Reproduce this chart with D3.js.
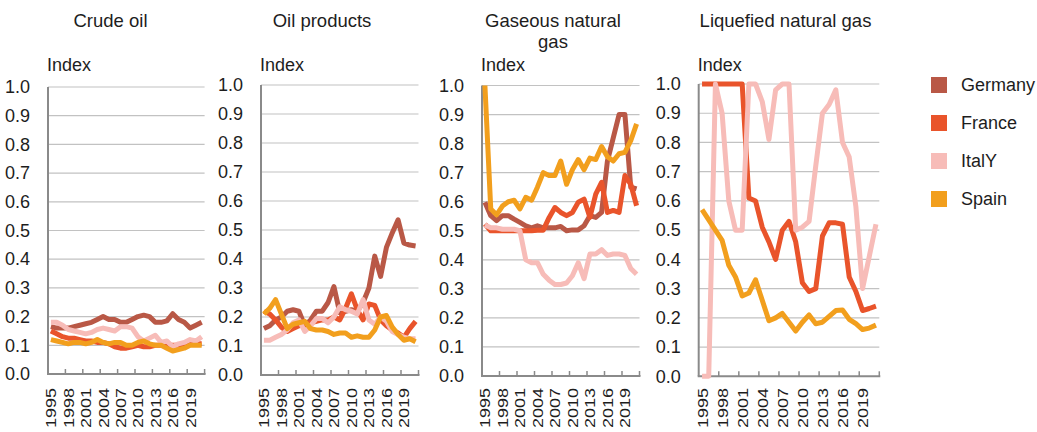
<!DOCTYPE html>
<html>
<head>
<meta charset="utf-8">
<script src="https://cdn.jsdelivr.net/npm/d3@7"></script>
<style>
  html, body { margin: 0; padding: 0; background: #fff; }
  svg { display: block; }
  text { font-family: "Liberation Sans", Arial, Helvetica, sans-serif; fill: #1d1d1d; }
</style>
</head>
<body>
<svg id="chart" width="1037" height="432"></svg>
<script>
// ---------- DATA ----------
const years = ["1995","1996","1997","1998","1999","2000","2001","2002","2003","2004","2005","2006","2007","2008","2009","2010","2011","2012","2013","2014","2015","2016","2017","2018","2019","2020","2021"];
const yearTickLabels = ["1995","1998","2001","2004","2007","2010","2013","2016","2019"];
const yTicks = [0.0,0.1,0.2,0.3,0.4,0.5,0.6,0.7,0.8,0.9,1.0];
const countries = ["Germany","France","ItalY","Spain"];
const panelTitles = [["Crude oil"],["Oil products"],["Gaseous natural","gas"],["Liquefied natural gas"]];

// Crude oil
const crudeGermany = [0.165,0.16,0.16,0.16,0.165,0.17,0.175,0.18,0.19,0.2,0.19,0.19,0.18,0.18,0.19,0.2,0.205,0.2,0.18,0.18,0.185,0.21,0.19,0.18,0.16,0.17,0.18];
const crudeFrance  = [0.15,0.14,0.13,0.125,0.125,0.12,0.115,0.115,0.11,0.11,0.105,0.095,0.09,0.09,0.095,0.1,0.095,0.095,0.1,0.1,0.1,0.1,0.1,0.1,0.105,0.105,0.105];
const crudeItaly   = [0.18,0.18,0.17,0.155,0.15,0.145,0.14,0.145,0.155,0.16,0.155,0.15,0.165,0.165,0.16,0.13,0.115,0.125,0.135,0.11,0.115,0.095,0.105,0.11,0.12,0.115,0.13];
const crudeSpain   = [0.12,0.115,0.11,0.105,0.11,0.11,0.105,0.11,0.12,0.11,0.105,0.11,0.11,0.1,0.1,0.11,0.115,0.105,0.1,0.1,0.09,0.08,0.085,0.09,0.1,0.1,0.1];

// Oil products
const oilGermany = [0.16,0.17,0.19,0.2,0.22,0.225,0.22,0.17,0.19,0.22,0.22,0.25,0.305,0.215,0.22,0.225,0.22,0.25,0.3,0.41,0.34,0.44,0.49,0.535,0.455,0.448,0.445];
const oilFrance  = [0.22,0.21,0.19,0.165,0.15,0.16,0.17,0.175,0.18,0.185,0.19,0.19,0.2,0.19,0.23,0.28,0.225,0.19,0.245,0.24,0.19,0.17,0.155,0.145,0.13,0.16,0.185];
const oilItaly   = [0.12,0.12,0.13,0.14,0.155,0.18,0.19,0.15,0.17,0.195,0.195,0.18,0.2,0.235,0.225,0.22,0.21,0.26,0.19,0.175,0.2,0.185,0.15,0.14,0.13,0.125,0.125];
const oilSpain   = [0.21,0.23,0.26,0.21,0.16,0.175,0.18,0.185,0.16,0.155,0.155,0.15,0.14,0.145,0.145,0.13,0.135,0.13,0.13,0.155,0.2,0.205,0.165,0.14,0.12,0.125,0.115];

// Gaseous natural gas
const gasGermany = [0.598,0.552,0.535,0.552,0.552,0.54,0.529,0.517,0.51,0.517,0.51,0.51,0.51,0.515,0.5,0.503,0.503,0.517,0.552,0.546,0.563,0.74,0.82,0.9,0.9,0.65,0.644];
const gasFrance  = [0.523,0.5,0.5,0.5,0.5,0.5,0.5,0.5,0.5,0.502,0.502,0.545,0.58,0.563,0.552,0.563,0.598,0.609,0.546,0.626,0.667,0.563,0.57,0.563,0.69,0.66,0.586];
const gasItaly   = [0.52,0.51,0.51,0.505,0.505,0.505,0.5,0.4,0.39,0.39,0.35,0.33,0.315,0.315,0.32,0.345,0.39,0.335,0.42,0.42,0.435,0.415,0.42,0.42,0.415,0.37,0.35];
const gasSpain   = [1.0,0.575,0.555,0.585,0.6,0.605,0.575,0.615,0.605,0.65,0.7,0.69,0.69,0.74,0.66,0.71,0.745,0.71,0.75,0.745,0.79,0.755,0.74,0.765,0.77,0.81,0.868];

// Liquefied natural gas (no German series)
const lngGermany = [];
const lngFrance  = [1,1,1,1,1,1,1,0.61,0.6,0.51,0.46,0.4,0.5,0.53,0.46,0.32,0.29,0.3,0.48,0.525,0.525,0.52,0.34,0.29,0.225,0.232,0.24];
const lngItaly   = [0,0,1,0.9,0.6,0.5,0.5,1,1,0.94,0.81,0.98,1,1,0.5,0.51,0.53,0.72,0.9,0.93,0.98,0.8,0.75,0.58,0.3,0.41,0.52];
const lngSpain   = [0.57,0.535,0.5,0.465,0.38,0.34,0.275,0.285,0.33,0.26,0.19,0.2,0.215,0.185,0.155,0.185,0.21,0.18,0.185,0.205,0.225,0.227,0.195,0.18,0.16,0.165,0.175];

const panelSeries = [
  [crudeGermany, crudeFrance, crudeItaly, crudeSpain],
  [oilGermany, oilFrance, oilItaly, oilSpain],
  [gasGermany, gasFrance, gasItaly, gasSpain],
  [lngGermany, lngFrance, lngItaly, lngSpain]
];

// ---------- STYLE / LAYOUT ----------
const colors = ["#b95846","#e9542b","#f7bcb8","#f29f1d"];
const layout = [
  {tx:110.5, x0:48,    x1:204.6, yTop:87,   yBot:374},
  {tx:322,   x0:261,   x1:418.5, yTop:85,   yBot:375},
  {tx:553,   x0:482,   x1:639.5, yTop:85.5, yBot:376},
  {tx:785.5, x0:698.7, x1:879.3, yTop:84,   yBot:376.3}
];

const svg = d3.select("#chart");

layout.forEach((L, p) => {
  const g = svg.append("g");
  const x = d3.scaleBand().domain(years).range([L.x0, L.x1]).paddingInner(0).paddingOuter(0);
  const y = d3.scaleLinear().domain([0, 1]).range([L.yBot, L.yTop]);
  const bw = x.bandwidth();

  // title
  const t = g.append("text").attr("x", L.tx).attr("y", 27)
    .attr("text-anchor", "middle").style("font-size", "18.5px");
  panelTitles[p].forEach((line, i) => {
    t.append("tspan").attr("x", L.tx).attr("dy", i === 0 ? 0 : 20.5).text(line);
  });

  // "Index" label
  g.append("text").attr("x", L.x0 - 1).attr("y", 71).style("font-size", "18px").text("Index");

  // gridlines
  g.selectAll("line.grid").data(yTicks.filter(d => d > 0)).join("line")
    .attr("x1", L.x0).attr("x2", L.x1)
    .attr("y1", d => y(d)).attr("y2", d => y(d))
    .attr("stroke", "#c2c2c2").attr("stroke-width", 1.2);

  // y axis labels via d3 axis
  const yAxis = d3.axisLeft(y).tickValues(yTicks).tickFormat(d3.format(".1f")).tickSize(0).tickPadding(18);
  const ya = g.append("g").attr("transform", `translate(${L.x0},0)`).call(yAxis);
  ya.select(".domain").remove();
  ya.selectAll("text").style("font-size", "18px").style("font-family", '"Liberation Sans", Arial, sans-serif').attr("fill", "#1d1d1d");

  // axis lines
  g.append("line").attr("x1", L.x0).attr("x2", L.x0).attr("y1", y(1)).attr("y2", y(0))
    .attr("stroke", "#8a8a8a").attr("stroke-width", 2);
  g.append("line").attr("x1", L.x0 - 1).attr("x2", L.x1 + 1).attr("y1", y(0)).attr("y2", y(0))
    .attr("stroke", "#8a8a8a").attr("stroke-width", 2);

  // x ticks at band boundaries every 3 years (pointing up)
  const tickPos = years.filter((d, i) => i % 3 === 0 && i > 0).map(d => x(d)).concat([x.range()[1]]);
  g.selectAll("line.xt").data(tickPos).join("line")
    .attr("x1", d => d).attr("x2", d => d)
    .attr("y1", y(0)).attr("y2", y(0) - 5)
    .attr("stroke", "#8a8a8a").attr("stroke-width", 1.5);

  // x labels
  g.selectAll("text.xl").data(yearTickLabels).join("text")
    .attr("text-anchor", "end")
    .attr("transform", d => `translate(${x(d) + bw / 2},388) rotate(-90) scale(1,0.85)`)
    .attr("dy", "0.36em")
    .style("font-size", "18px")
    .text(d => d);

  // lines
  const line = d3.line()
    .x((d, i) => x(years[i]) + bw / 2)
    .y(d => y(d));
  panelSeries[p].forEach((vals, s) => {
    if (!vals.length) return;
    g.append("path").datum(vals)
      .attr("d", line)
      .attr("fill", "none")
      .attr("stroke", colors[s])
      .attr("stroke-width", 5)
      .attr("stroke-linejoin", "round")
      .attr("stroke-linecap", "butt");
  });
});

// legend
const lg = svg.append("g");
const legY = d3.scalePoint().domain(countries).range([85, 199]);
countries.forEach((c, i) => {
  lg.append("rect").attr("x", 931).attr("y", legY(c) - 8).attr("width", 16).attr("height", 16).attr("fill", colors[i]);
  lg.append("text").attr("x", 961).attr("y", legY(c)).attr("dy", "0.36em").style("font-size", "18px").text(c);
});
</script>
</body>
</html>
